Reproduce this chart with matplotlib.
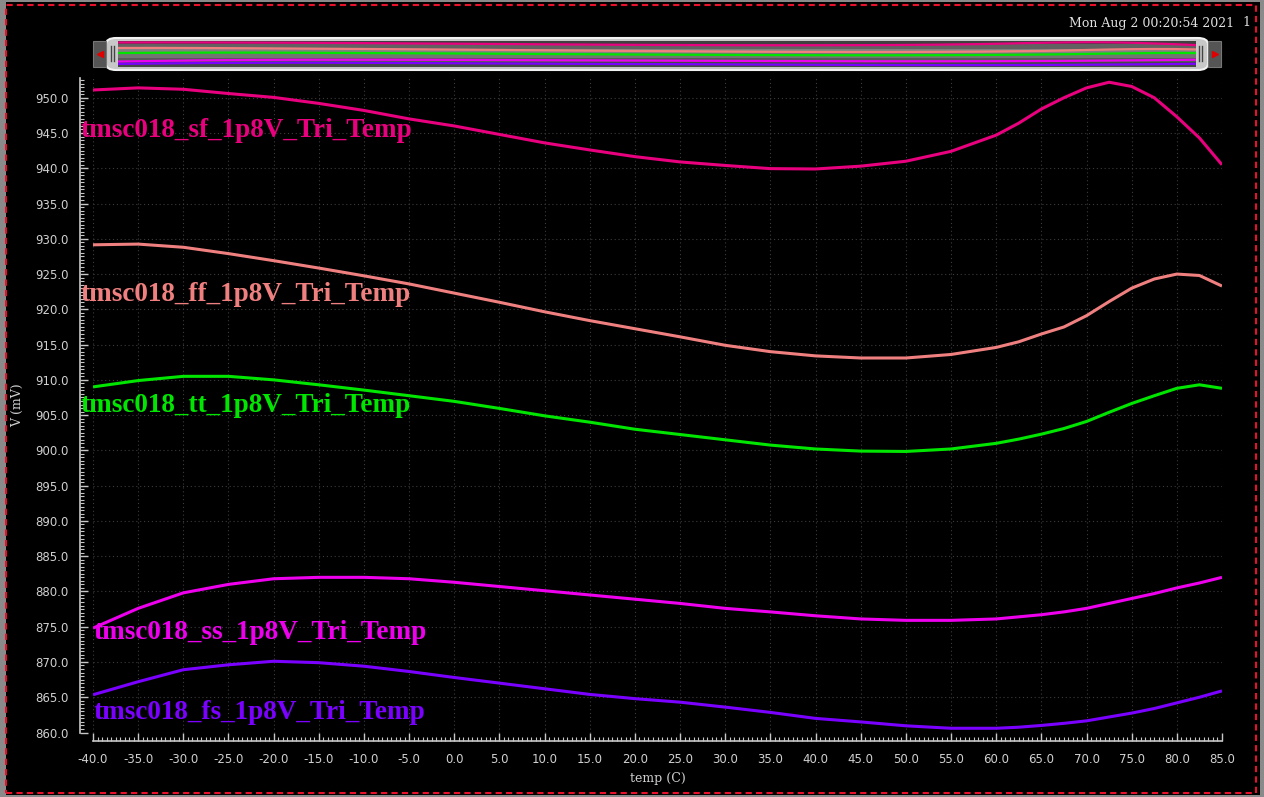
import matplotlib.pyplot as plt
import numpy as np
from matplotlib.patches import Rectangle, FancyBboxPatch
from matplotlib.ticker import MultipleLocator, FormatStrFormatter

W, H = 1264, 797

# temperature points (C)
temp = [-40, -35, -30, -25, -20, -15, -10, -5, 0, 5, 10, 15, 20, 25, 30, 35, 40, 45, 50, 55, 60,
        62.5, 65, 67.5, 70, 72.5, 75, 77.5, 80, 82.5, 85]

# output voltage per corner (mV)
v_sf = [951.1, 951.4, 951.2, 950.6, 950.05, 949.2, 948.2, 947.0, 946.0, 944.8, 943.6, 942.6, 941.65,
        940.9, 940.4, 939.95, 939.9, 940.3, 941.0, 942.4, 944.7,
        946.4, 948.4, 950.0, 951.4, 952.2, 951.6, 950.0, 947.3, 944.3, 940.5]
v_ff = [929.15, 929.25, 928.8, 927.9, 926.9, 925.85, 924.75, 923.6, 922.3, 921.0, 919.65, 918.4, 917.25,
        916.1, 914.9, 914.0, 913.4, 913.1, 913.1, 913.6, 914.6,
        915.4, 916.5, 917.5, 919.1, 921.1, 923.0, 924.3, 925.0, 924.8, 923.3]
v_tt = [909.0, 909.9, 910.5, 910.5, 910.0, 909.3, 908.55, 907.75, 906.95, 905.95, 904.9, 904.0, 903.0,
        902.25, 901.5, 900.75, 900.2, 899.9, 899.85, 900.2, 901.0,
        901.6, 902.3, 903.1, 904.1, 905.4, 906.65, 907.75, 908.8, 909.3, 908.8]
v_ss = [874.8, 877.6, 879.8, 881.0, 881.8, 882.0, 882.0, 881.8, 881.3, 880.7, 880.1, 879.5, 878.9,
        878.3, 877.6, 877.1, 876.55, 876.1, 875.9, 875.9, 876.1,
        876.4, 876.7, 877.1, 877.6, 878.3, 879.0, 879.7, 880.5, 881.2, 882.0]
v_fs = [865.35, 867.2, 868.9, 869.6, 870.1, 869.9, 869.4, 868.65, 867.8, 867.0, 866.2, 865.4, 864.8,
        864.3, 863.6, 862.85, 862.0, 861.5, 860.95, 860.6, 860.6,
        860.75, 861.0, 861.3, 861.65, 862.2, 862.75, 863.4, 864.2, 865.0, 865.9]

names = ["tmsc018_sf_1p8V_Tri_Temp", "tmsc018_ff_1p8V_Tri_Temp", "tmsc018_tt_1p8V_Tri_Temp",
         "tmsc018_ss_1p8V_Tri_Temp", "tmsc018_fs_1p8V_Tri_Temp"]
series = [v_sf, v_ff, v_tt, v_ss, v_fs]
colors = ["#e8007e", "#f08080", "#00e600", "#ee00ee", "#7a00ff"]
# label anchor (temp, mV) for the trace names
label_pos = [(-41.4, 945.4), (-41.4, 922.1), (-41.4, 906.3), (-40.0, 874.2), (-40.0, 862.9)]


def rect(x0, y0, x1, y1):
    # pixel box (top-left origin) -> figure fraction
    return [x0 / W, 1 - y1 / H, (x1 - x0) / W, (y1 - y0) / H]


def fig_box(x0, y0, x1, y1, **kw):
    r = rect(x0, y0, x1, y1)
    fig.patches.append(Rectangle((r[0], r[1]), r[2], r[3], transform=fig.transFigure, **kw))


fig = plt.figure(figsize=(W / 100, H / 100), dpi=100, facecolor="black")
# grey window frame
fig_box(0, 0, 6, H, facecolor="#8a8a8a", edgecolor="none", zorder=0)
fig_box(0, 0, W, 2, facecolor="#8a8a8a", edgecolor="none", zorder=0)
fig_box(1260, 0, W, H, facecolor="#8a8a8a", edgecolor="none", zorder=0)
fig_box(0, 795, W, H, facecolor="#8a8a8a", edgecolor="none", zorder=0)
fig_box(6, 5, 1256, 793, facecolor="none", edgecolor="#e8102a", lw=1.5,
        linestyle=(0, (3, 2)), zorder=5)

ax = fig.add_axes(rect(93, 78, 1222, 732.5))
ax.set_zorder(1)
ax.set_facecolor("black")
for v, c in zip(series, colors):
    ax.plot(temp, v, color=c, lw=2.2, solid_capstyle="butt")
for name, c, (lx, ly) in zip(names, colors, label_pos):
    ax.text(lx, ly, name, color=c, fontsize=19.6, fontweight="bold", family="Liberation Serif",
            ha="left", va="center", clip_on=False)

ax.set_xlim(-40, 85)
ax.set_ylim(860, 952.8)
ax.xaxis.set_major_locator(MultipleLocator(5))
ax.xaxis.set_minor_locator(MultipleLocator(0.5))
ax.yaxis.set_major_locator(MultipleLocator(5))
ax.yaxis.set_minor_locator(MultipleLocator(0.5))
ax.xaxis.set_major_formatter(FormatStrFormatter("%.1f"))
ax.yaxis.set_major_formatter(FormatStrFormatter("%.1f"))
ax.grid(True, which="major", color="#3c3c3c", linestyle=(0, (1, 2.5)), lw=0.8)

for s in ["top", "right"]:
    ax.spines[s].set_visible(False)
ax.spines["left"].set_position(("outward", 9.4))
ax.spines["bottom"].set_position(("outward", 6.1))
ax.spines["left"].set_bounds(860, 952.8)
ax.spines["bottom"].set_bounds(-40, 85)
for s in ["left", "bottom"]:
    ax.spines[s].set_color("#c8c8c8")
    ax.spines[s].set_linewidth(1.2)
ax.tick_params(which="both", direction="in", colors="#c8c8c8", labelcolor="#d0d0d0", labelsize=8.5)
ax.tick_params(which="major", length=6, width=1)
ax.tick_params(which="minor", length=3, width=0.8)
ax.tick_params(axis="y", pad=8)
ax.tick_params(axis="x", pad=9)
ax.set_ylabel("V (mV)", family="DejaVu Serif", fontsize=9, color="#d0d0d0", labelpad=8)
ax.set_xlabel("temp (C)", family="DejaVu Serif", fontsize=9, color="#d0d0d0", labelpad=4)

fig.text(1234 / W, 1 - 23 / H, "Mon Aug 2 00:20:54 2021", family="DejaVu Serif", fontsize=9,
         color="#e0e0e0", ha="right", va="center")
fig.text(1250 / W, 1 - 23 / H, "1", family="DejaVu Serif", fontsize=9,
         color="#e0e0e0", ha="right", va="center")

# scroll bar with overview of all traces
r = rect(106, 38, 1208, 70)
fig.patches.append(FancyBboxPatch((r[0], r[1]), r[2], r[3], transform=fig.transFigure,
                                  boxstyle="round,pad=0,rounding_size=0.008",
                                  facecolor="#c8c8c8", edgecolor="#f2f2f2", lw=1.5, zorder=2))
for x0, x1, mk, mx in [(93, 106, "<", 99.5), (1208, 1221, ">", 1214.5)]:
    fig_box(x0, 41, x1, 67, facecolor="#555555", edgecolor="#777777", lw=0.8, zorder=2)
    fig.lines.append(plt.Line2D([mx / W], [1 - 54 / H], marker=mk, color="#e00000",
                                markersize=4, transform=fig.transFigure, zorder=3))
for gx in [111, 113.5, 1199, 1201.5]:
    fig.lines.append(plt.Line2D([gx / W, gx / W], [1 - 46 / H, 1 - 61 / H], color="#444444",
                                lw=1, transform=fig.transFigure, zorder=3))

ov = fig.add_axes(rect(118, 41, 1196, 67))
ov.set_zorder(3)
grad = np.array([0.25, 0.38, 0.5, 0.45, 0.35, 0.28]).reshape(-1, 1)
ov.imshow(grad, cmap="gray", vmin=0, vmax=1, aspect="auto", extent=[-40, 85, 853, 957])
for v, c in zip(series, colors):
    ov.plot(temp, v, color=c, lw=1.6)
ov.set_xlim(-40, 85)
ov.set_ylim(853, 957)
ov.axis("off")

fig.savefig("out.png", dpi=100, facecolor=fig.get_facecolor())
